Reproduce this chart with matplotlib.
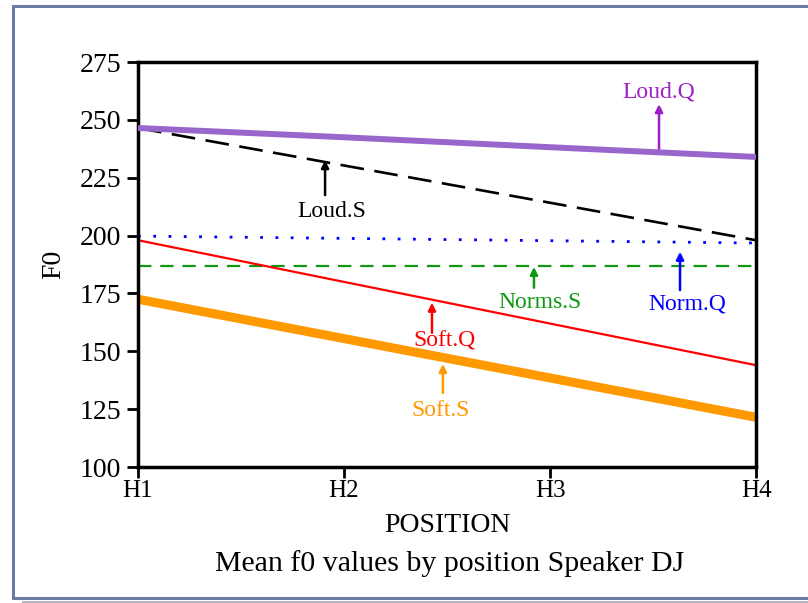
import matplotlib.pyplot as plt
from matplotlib.lines import Line2D

plt.rcParams['font.family'] = ['Liberation Serif', 'DejaVu Serif']

positions = ["H1", "H2", "H3", "H4"]
loud_q = [246.5, 242.5, 238.2, 234.0]
loud_s = [246.5, 230.3, 214.2, 198.0]
norm_q = [199.8, 198.8, 197.8, 196.8]
norms_s = [187.0, 187.0, 187.0, 187.0]
soft_q = [198.0, 180.0, 162.0, 144.0]
soft_s = [172.5, 155.5, 138.5, 121.5]

fig = plt.figure(figsize=(8.08, 6.03), dpi=100)
ax = fig.add_axes([0.1708, 0.2255, 0.7649, 0.6716])
x = range(len(positions))

ax.plot(x, loud_q, color='#9966cc', lw=4.3, solid_capstyle='butt', zorder=3)
ax.plot(x, loud_s, color='black', lw=1.9, dashes=(9, 4))
ax.plot(x, norm_q, color='#0000ff', lw=2.0, dashes=(1, 4.5))
ax.plot(x, norms_s, color='#109810', lw=1.6, dashes=(6, 4))
ax.plot(x, soft_q, color='#ff0000', lw=1.6)
ax.plot(x, soft_s, color='#ff9900', lw=6.5, solid_capstyle='butt')

# labels with upward arrows: (text, text xy, arrow tail, arrow head, colour)
notes = [
    ("Loud.S", (0.94, 210.6), (0.908, 217.5), (0.908, 232.6), 'black'),
    ("Loud.Q", (2.53, 262.0), (2.529, 237.5), (2.529, 256.8), '#a020c8'),
    ("Norm.Q", (2.665, 170.4), (2.631, 176.5), (2.631, 193.0), '#0000ff'),
    ("Norms.S", (1.951, 170.9), (1.922, 177.5), (1.922, 186.5), '#109810'),
    ("Soft.Q", (1.49, 154.4), (1.427, 158.0), (1.427, 171.0), '#ff0000'),
    ("Soft.S", (1.471, 124.6), (1.48, 132.0), (1.48, 144.5), '#ff9900'),
]
for label, txy, tail, head, c in notes:
    ax.annotate("", xy=head, xytext=tail,
                arrowprops=dict(arrowstyle='-|>', color=c, lw=1.8,
                                mutation_scale=11, shrinkA=0, shrinkB=0))
    ax.text(txy[0], txy[1], label, color=c, fontsize=17,
            ha='center', va='center')

ax.set_xlim(0, 3)
ax.set_ylim(100, 275)
ax.set_xticks(list(x))
ax.set_xticklabels(positions)
ax.set_yticks(range(100, 276, 25))
ax.tick_params(direction='out', length=8, width=2)
ax.tick_params(axis='x', labelsize=18, pad=1)
ax.tick_params(axis='y', labelsize=20, pad=4)
for s in ax.spines.values():
    s.set_linewidth(2.5)
ax.set_xlabel("POSITION", fontsize=20, labelpad=8)
ax.set_ylabel("F0", fontsize=20, labelpad=10)

fig.text(0.557, 0.066, "Mean f0 values by position Speaker DJ",
         fontsize=21.5, ha='center', va='center')

# frame around the figure with a light shadow along the bottom
frame = '#6b7aa6'
fig.add_artist(Line2D([0.016, 0.016], [0.0083, 0.990], color=frame, lw=2.2))
fig.add_artist(Line2D([0.016, 1.0], [0.990, 0.990], color=frame, lw=2.2))
fig.add_artist(Line2D([0.016, 1.0], [0.0083, 0.0083], color=frame, lw=2.2))
fig.add_artist(Line2D([0.028, 1.0], [0.002, 0.002], color='#b0b0b8', lw=2.0))

fig.savefig("out.png", dpi=100)
